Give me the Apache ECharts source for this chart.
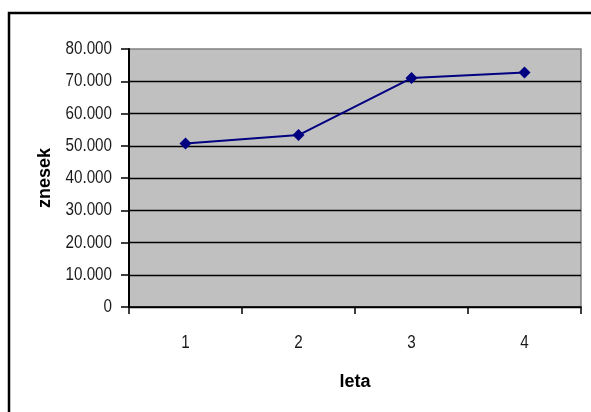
<!DOCTYPE html>
<html>
<head>
<meta charset="utf-8">
<script src="https://cdn.jsdelivr.net/npm/echarts@6/dist/echarts.min.js"></script>
<style>
  html, body { margin: 0; padding: 0; background: #fff; }
  #chart { width: 591px; height: 412px; }
</style>
</head>
<body>
<div id="chart"></div>
<script>
// Yearly revenue (znesek) per year (leta)
const years = ['1', '2', '3', '4'];
const amounts = [50700, 53300, 71000, 72700];
const yTicks = [0, 10000, 20000, 30000, 40000, 50000, 60000, 70000, 80000];
const yMin = 0, yMax = 80000, yStep = 10000;

const tickFont = '"Liberation Sans", Arial, sans-serif';
const titleFont = 'Arial, "Liberation Sans", sans-serif';

function thousands(v) {
  return String(v).replace(/\B(?=(\d{3})+(?!\d))/g, '.');
}

const chart = echarts.init(document.getElementById('chart'), null, { renderer: 'canvas' });
chart.setOption({
  animation: false,
  backgroundColor: '#ffffff',
  grid: {
    left: 129, top: 49, width: 452, height: 258,
    show: true,
    backgroundColor: '#c0c0c0',
    borderColor: '#808080',
    borderWidth: 1.5
  },
  xAxis: {
    type: 'category',
    data: years,
    boundaryGap: true,
    name: 'leta',
    nameLocation: 'middle',
    nameGap: 66,
    nameTextStyle: { fontFamily: titleFont, fontWeight: 'bold', fontSize: 18, color: '#000' },
    axisLine: { lineStyle: { color: '#000', width: 1.5 } },
    axisTick: { show: true, alignWithLabel: false, length: 7, lineStyle: { color: '#000', width: 1.5 } },
    axisLabel: { show: false },
    splitLine: { show: false }
  },
  yAxis: {
    type: 'value',
    min: yMin, max: yMax, interval: yStep,
    name: 'znesek',
    nameLocation: 'middle',
    nameGap: 75,
    nameRotate: 90,
    nameTextStyle: { fontFamily: titleFont, fontWeight: 'bold', fontSize: 18, color: '#000' },
    axisLine: { show: true, lineStyle: { color: '#000', width: 2 } },
    axisTick: { show: true, length: 8, lineStyle: { color: '#000', width: 1.5 } },
    axisLabel: { show: false },
    splitLine: { show: true, showMaxLine: false, lineStyle: { color: '#000', width: 1.3 } }
  },
  series: [{
    type: 'line',
    data: amounts,
    symbol: 'diamond',
    symbolSize: 12,
    lineStyle: { color: '#000080', width: 2 },
    itemStyle: { color: '#000080' },
    z: 5
  }]
});

// Tick labels in a condensed face: placed at the axis' own pixel positions and narrowed horizontally.
const labels = [];
yTicks.forEach(function (v) {
  const p = chart.convertToPixel({ gridIndex: 0 }, [0, v]);
  labels.push({
    type: 'text',
    x: 129 - 17, y: p[1],
    scaleX: 0.8,
    style: { text: thousands(v), fontFamily: tickFont, fontSize: 19, fill: '#1a1a1a', align: 'right', verticalAlign: 'middle' },
    z: 10
  });
});
years.forEach(function (c) {
  const p = chart.convertToPixel({ gridIndex: 0 }, [c, 0]);
  labels.push({
    type: 'text',
    x: p[0], y: p[1] + 36,
    scaleX: 0.8,
    style: { text: c, fontFamily: tickFont, fontSize: 19, fill: '#1a1a1a', align: 'center', verticalAlign: 'middle' },
    z: 10
  });
});
labels.push({
  type: 'rect',
  shape: { x: 9, y: 13, width: 600, height: 420 },
  style: { fill: 'none', stroke: '#000', lineWidth: 2.5 },
  z: 0
});
chart.setOption({ graphic: labels });
</script>
</body>
</html>
